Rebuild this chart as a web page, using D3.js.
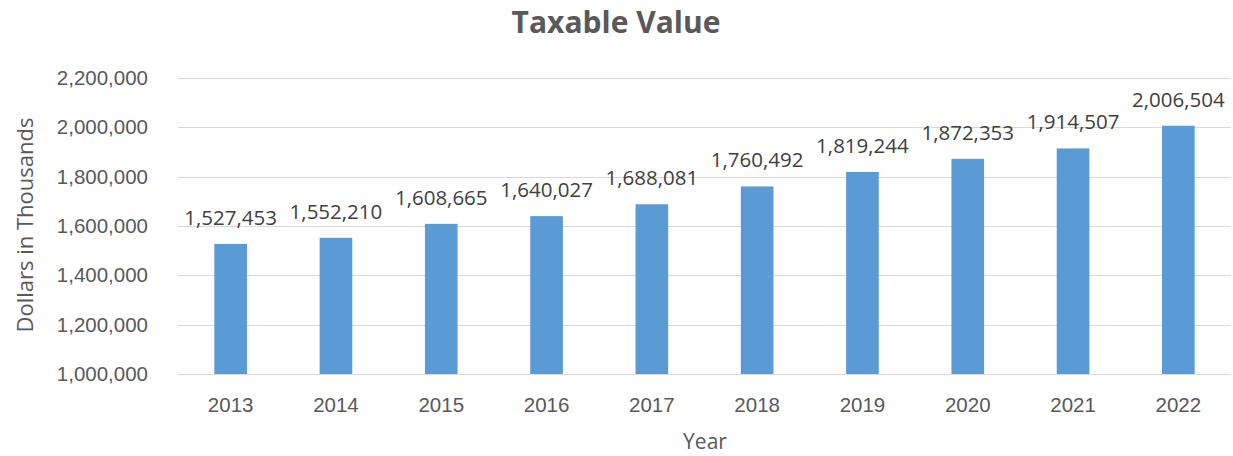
<!DOCTYPE html>
<html>
<head>
<meta charset="utf-8">
<script src="https://cdn.jsdelivr.net/npm/d3@7"></script>
<style>
  html, body { margin: 0; padding: 0; background: #fff; }
  svg { display: block; font-family: "Open Sans", "Noto Sans", sans-serif; }
</style>
</head>
<body>
<svg id="chart" width="1233" height="456"></svg>
<script>
// Taxable value by year, dollars in thousands
const years = ["2013", "2014", "2015", "2016", "2017", "2018", "2019", "2020", "2021", "2022"];
const taxableValues = [1527453, 1552210, 1608665, 1640027, 1688081, 1760492, 1819244, 1872353, 1914507, 2006504];
const yTicks = [1000000, 1200000, 1400000, 1600000, 1800000, 2000000, 2200000];

const svg = d3.select("#chart");
const margin = { left: 178, right: 2, top: 78, bottom: 82 };
const W = 1233, H = 456;

const x = d3.scaleBand()
  .domain(years)
  .range([margin.left, W - margin.right])
  .paddingInner(0.69)
  .paddingOuter(0.345);

const y = d3.scaleLinear()
  .domain([1000000, 2200000])
  .range([H - margin.bottom, margin.top]);

const fmt = d3.format(",");

// Horizontal gridlines
svg.append("g")
  .selectAll("line")
  .data(yTicks)
  .join("line")
  .attr("x1", margin.left)
  .attr("x2", W - margin.right)
  .attr("y1", d => Math.round(y(d)) + 0.5)
  .attr("y2", d => Math.round(y(d)) + 0.5)
  .attr("stroke", "#d9d9d9")
  .attr("stroke-width", 1);

// Y axis labels
const yAxis = d3.axisLeft(y).tickValues(yTicks).tickFormat(fmt).tickSize(0).tickPadding(30);
const yg = svg.append("g").attr("transform", `translate(${margin.left},0)`).call(yAxis);
yg.select(".domain").remove();
yg.selectAll("text").attr("fill", "#595959").style("font-size", "20.5px");

// X axis labels
const xAxis = d3.axisBottom(x).tickSize(0);
const xg = svg.append("g").attr("transform", `translate(0,${H - margin.bottom})`).call(xAxis);
xg.select(".domain").remove();
xg.selectAll("text")
  .attr("y", 38)
  .attr("dy", 0)
  .attr("fill", "#595959")
  .style("font-size", "20.5px");

// Bars
const rows = years.map((yr, i) => ({ yr, v: taxableValues[i] }));
svg.append("g")
  .selectAll("rect")
  .data(rows)
  .join("rect")
  .attr("x", d => x(d.yr))
  .attr("width", x.bandwidth())
  .attr("y", d => y(d.v))
  .attr("height", d => y(1000000) - y(d.v))
  .attr("fill", "#5b9bd5");

// Value labels above bars
svg.append("g")
  .selectAll("text")
  .data(rows)
  .join("text")
  .attr("x", d => x(d.yr) + x.bandwidth() / 2)
  .attr("y", d => y(d.v) - 19)
  .attr("text-anchor", "middle")
  .attr("fill", "#404040")
  .style("font-size", "20.5px")
  .text(d => fmt(d.v));

// Title
svg.append("text")
  .attr("x", 616)
  .attr("y", 33)
  .attr("text-anchor", "middle")
  .attr("fill", "#595959")
  .style("font-size", "30px")
  .style("font-weight", "bold")
  .text("Taxable Value");

// Axis titles
svg.append("text")
  .attr("x", 705)
  .attr("y", 449)
  .attr("text-anchor", "middle")
  .attr("fill", "#595959")
  .style("font-size", "21px")
  .text("Year");

svg.append("text")
  .attr("transform", "translate(33,225) rotate(-90)")
  .attr("text-anchor", "middle")
  .attr("fill", "#595959")
  .style("font-size", "22px")
  .text("Dollars in Thousands");
</script>
</body>
</html>
